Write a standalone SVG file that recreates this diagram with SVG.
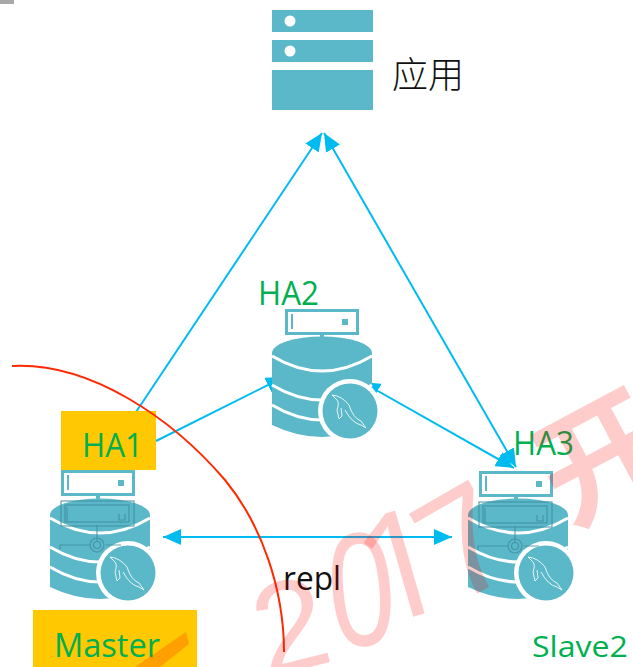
<svg xmlns="http://www.w3.org/2000/svg" xmlns:xlink="http://www.w3.org/1999/xlink" width="633" height="667" viewBox="0 0 633 667">
<style>
.teal{fill:#5BB8C8}
.wl{fill:none;stroke:#fff;stroke-width:3}
.gh{fill:none;stroke:#3F8E9E;stroke-width:1.2;opacity:.8}
.lbl{font-family:"Open Sans","Noto Sans",sans-serif;fill:#00B050;font-size:32px}
.conn{fill:none;stroke:#00BBF0;stroke-width:2}
.wm{font-family:"Liberation Sans","Noto Sans CJK SC",sans-serif;fill:#FF0000;fill-opacity:.2}
</style>
<defs>
<marker id="ah" viewBox="0 0 18 16" refX="18" refY="8" markerWidth="18" markerHeight="16" markerUnits="userSpaceOnUse" orient="auto-start-reverse"><path d="M0 0L18 8L0 16Z" fill="#00BBF0"/></marker>
<g id="srv">
<rect x="286.500" y="310.500" width="71" height="23" fill="#fff" stroke="#5BB8C8" stroke-width="3"/>
<rect x="291" y="314" width="2" height="15" class="teal"/>
<rect x="342" y="319" width="6" height="6" class="teal"/>
<rect x="320" y="333" width="4" height="5" class="teal"/>
</g>
<g id="cyl">
<path class="teal" d="M272 353A50 16.500 0 0 1 372 353V425Q322 449 272 425Z"/>
<path class="wl" d="M272 356Q322 386 372 356M272 385Q322 415 372 385M272 405Q322 435 372 405"/>
<circle cx="350" cy="411" r="32" fill="#fff"/>
<circle cx="350" cy="411" r="27.500" class="teal"/>
<path d="M332 395Q342 396 349 405Q353 418 361 421L366 428L361 425Q352 423 345 410M332 395L336 399Q340 402 337 410L339 419L342 416L341 408" fill="none" stroke="#fff" stroke-width="1" stroke-opacity=".85"/>
</g>
<g id="ghost" class="gh">
<rect x="285" y="340" width="73" height="25"/>
<rect x="289" y="344" width="64" height="17"/>
<path d="M291 346V360M343 353V359H349V353M321 364V381M284 388V384H315M330 384H345"/>
<circle cx="321" cy="384" r="7"/>
<circle cx="321" cy="384" r="3.500"/>
</g>
</defs>

<rect x="0" y="0" width="14" height="4" fill="#A8A8A8"/>

<g id="connectors">
<path class="conn" d="M136 412L322 133" marker-end="url(#ah)"/>
<path class="conn" d="M516 467L324 133" marker-start="url(#ah)" marker-end="url(#ah)"/>
<path class="conn" d="M156 441L284 377" marker-end="url(#ah)"/>
<path class="conn" d="M514 468L362 382" marker-start="url(#ah)" marker-end="url(#ah)"/>
<path class="conn" d="M163 537H452" marker-start="url(#ah)" marker-end="url(#ah)"/>
</g>

<g id="app">
<rect class="teal" x="272" y="10" width="101" height="22"/>
<rect class="teal" x="272" y="40" width="101" height="22"/>
<rect class="teal" x="272" y="70" width="101" height="40"/>
<circle cx="290" cy="21" r="5.500" fill="#fff"/>
<circle cx="290" cy="51" r="5.500" fill="#fff"/>
<text x="392" y="88" font-size="36" font-weight="300" font-family="'Noto Sans CJK SC',sans-serif" fill="#111">应用</text>
</g>

<g id="ha2">
<use xlink:href="#cyl" href="#cyl"/>
<use xlink:href="#srv" href="#srv"/>
<text class="lbl" x="258" y="305" textLength="61" lengthAdjust="spacingAndGlyphs">HA2</text>
</g>
<g id="ha1">
<rect x="61" y="411" width="95" height="59" fill="#FFC800"/>
<text class="lbl" x="82" y="457" textLength="61" lengthAdjust="spacingAndGlyphs">HA1</text>
<use xlink:href="#cyl" href="#cyl" x="-222" y="162"/>
<use xlink:href="#srv" href="#srv" x="-224" y="161"/>
<use xlink:href="#ghost" href="#ghost" x="-224" y="161"/>
</g>
<g id="ha3">
<text class="lbl" x="513" y="455" textLength="61" lengthAdjust="spacingAndGlyphs">HA3</text>
<use xlink:href="#cyl" href="#cyl" x="196" y="162"/>
<use xlink:href="#srv" href="#srv" x="194" y="162"/>
<use xlink:href="#ghost" href="#ghost" x="194" y="162"/>
</g>
<g id="master">
<rect x="33" y="610" width="164" height="57" fill="#FFC800"/>
<text class="lbl" x="54" y="657" textLength="106" lengthAdjust="spacingAndGlyphs">Master</text>
</g>
<g id="slave2">
<text class="lbl" x="532" y="657" textLength="96" lengthAdjust="spacingAndGlyphs" style="font-size:29px">Slave2</text>
</g>

<path id="arc" d="M12 366C90 362 172 418 225 480C262 525 284 590 284 652" fill="none" stroke="#FF2A00" stroke-width="2"/>

<text x="283" y="590" font-size="32" font-family="'Open Sans',sans-serif" fill="#111" textLength="58" lengthAdjust="spacingAndGlyphs">repl</text>

<g id="watermark">
<path d="M135 667L186 632L189 644L160 667Z" fill="#FF0000" fill-opacity=".2"/>
<text class="wm" font-size="130" transform="translate(266 678) rotate(-14)">2</text>
<text class="wm" font-size="150" transform="translate(333 648) rotate(-5) scale(.8 1.08)">0</text>
<text class="wm" font-size="150" style="font-family:'Open Sans',sans-serif" transform="translate(374 628) rotate(-16)">1</text>
<text class="wm" font-size="150" transform="translate(454 607) rotate(-30)">7</text>
<text class="wm" font-size="125" font-weight="700" transform="translate(568 527) rotate(-28)">开</text>
</g>
</svg>
